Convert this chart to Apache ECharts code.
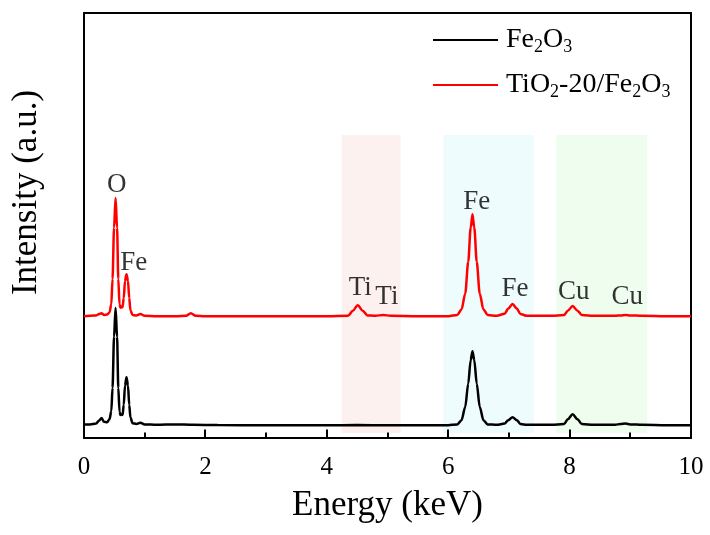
<!DOCTYPE html>
<html>
<head>
<meta charset="utf-8">
<script src="https://cdn.jsdelivr.net/npm/echarts@6/dist/echarts.min.js"></script>
<style>html,body{margin:0;padding:0;background:#fff;}#c{width:710px;height:535px;}</style>
</head>
<body>
<div id="c"></div>
<script>
// ---- data ----
const seriesNames = ['Fe2O3', 'TiO2-20/Fe2O3'];
// [energy keV, intensity a.u.] relative to each trace's own baseline
const fe2o3 = [
[0.00,0.4],[0.10,0.4],[0.20,0.6],[0.25,1.3],[0.29,1.9],[0.33,1.0],[0.38,0.9],[0.42,1.6],[0.45,3.5],[0.47,9],[0.495,21],[0.52,27.8],[0.545,21],[0.565,9],[0.585,3.4],[0.60,2.6],[0.62,2.8],[0.635,2.6],[0.655,5],[0.675,9.5],[0.70,11.5],[0.725,9.5],[0.745,5],[0.765,2.0],[0.80,0.7],[0.86,0.5],[0.93,0.8],[1.00,0.4],[1.20,0.3],[1.50,0.4],[1.80,0.3],[2.2,0.25],[3.0,0.2],[4.0,0.2],[4.5,0.25],[5.0,0.2],[5.5,0.2],[6.0,0.2],[6.15,0.4],[6.22,1.4],[6.28,4.5],[6.33,10],[6.37,15.5],[6.40,17.6],[6.43,15.5],[6.47,10],[6.52,4.5],[6.58,1.4],[6.65,0.4],[6.80,0.3],[6.93,0.6],[6.99,1.4],[7.06,2.1],[7.13,1.4],[7.19,0.5],[7.3,0.3],[7.7,0.3],[7.91,0.5],[7.97,1.6],[8.05,2.8],[8.13,1.6],[8.2,0.5],[8.4,0.3],[8.75,0.3],[8.84,0.5],[8.92,0.6],[9.0,0.4],[9.2,0.3],[9.6,0.2],[10.0,0.2]
];
const tio2Fe2o3 = [
[0.00,0.2],[0.10,0.3],[0.20,0.4],[0.25,0.7],[0.29,0.9],[0.33,0.5],[0.38,0.6],[0.42,1.1],[0.45,3],[0.47,9],[0.495,21],[0.52,28.0],[0.545,21],[0.565,9],[0.585,3],[0.60,2.2],[0.62,2.5],[0.635,2.3],[0.655,4.5],[0.675,8.5],[0.70,10.1],[0.725,8.5],[0.745,4.5],[0.765,1.6],[0.80,0.5],[0.86,0.4],[0.93,0.7],[1.00,0.3],[1.2,0.2],[1.5,0.2],[1.68,0.3],[1.76,0.9],[1.84,0.3],[2.0,0.2],[3.0,0.2],[4.0,0.2],[4.35,0.3],[4.43,1.5],[4.51,2.8],[4.59,1.5],[4.67,0.4],[4.8,0.3],[4.93,0.5],[5.05,0.3],[5.5,0.2],[6.0,0.2],[6.15,0.5],[6.22,1.8],[6.28,5.5],[6.33,13],[6.37,21],[6.40,24.2],[6.43,21],[6.47,13],[6.52,5.5],[6.58,1.8],[6.65,0.5],[6.8,0.3],[6.93,0.8],[6.99,2.0],[7.06,3.1],[7.13,2.0],[7.19,0.7],[7.3,0.3],[7.7,0.3],[7.91,0.5],[7.97,1.5],[8.05,2.6],[8.13,1.5],[8.2,0.5],[8.4,0.3],[8.75,0.3],[8.84,0.4],[8.92,0.5],[9.0,0.4],[9.2,0.3],[9.6,0.2],[10.0,0.2]
];
const offsets = [2.8, 28.45];           // vertical stacking offset of each trace
const bands = [[4.245, 5.216], [5.92, 7.41], [7.78, 9.28]];  // keV
const bandY = [1.2, 71.3];
const peakNames = ['O', 'Fe', 'Ti', 'Ti', 'Fe', 'Fe', 'Cu', 'Cu'];
const peakLabelX = [0.54, 0.82, 4.55, 4.99, 6.47, 7.10, 8.07, 8.95];
const peakLabelY = [59.5, 41.2, 35.3, 33.2, 55.5, 35.1, 34.4, 33.2];
const majorTicks = [0, 2, 4, 6, 8, 10];
const minorTicks = [1, 3, 5, 7, 9];

// ---- chart ----
const FONT = '"Liberation Serif", "Times New Roman", serif';
const bandColors = ['#fdf1ef', '#effcfd', '#effdef'];
const majorLen = 2.0, minorLen = 1.3;   // tick lengths in y-axis units
const shift = (arr, off) => arr.map(p => [p[0], p[1] + off]);
const rich = {
  n: { fontFamily: FONT, fontSize: 28, color: '#000', lineHeight: 32, verticalAlign: 'middle' },
  s: { fontFamily: FONT, fontSize: 18, color: '#000', lineHeight: 18, verticalAlign: 'bottom' }
};
const legendText = {
  'Fe2O3': '{n|Fe}{s|2}{n|O}{s|3}',
  'TiO2-20/Fe2O3': '{n|TiO}{s|2}{n|-20/Fe}{s|2}{n|O}{s|3}'
};
const frameAxis = { show: true, onZero: false, lineStyle: { color: '#000', width: 2 } };
const tickData = majorTicks.map(v => [v, majorLen, 2]).concat(minorTicks.map(v => [v, minorLen, 2]));

const chart = echarts.init(document.getElementById('c'), null, { renderer: 'canvas' });
chart.setOption({
  animation: false,
  backgroundColor: '#fff',
  grid: { left: 84, right: 19, top: 13, bottom: 97 },
  legend: {
    orient: 'vertical', left: 428, top: 21, itemWidth: 65, itemHeight: 2, itemGap: 15,
    icon: 'rect',
    data: seriesNames,
    formatter: n => legendText[n],
    textStyle: { rich: rich, padding: [0, 0, 0, 3] }
  },
  xAxis: [{
    type: 'value', min: 0, max: 10, interval: 2,
    name: 'Energy (keV)', nameLocation: 'middle', nameGap: 50,
    nameTextStyle: { fontFamily: FONT, fontSize: 35, color: '#000' },
    axisLine: frameAxis,
    axisTick: { show: false },
    axisLabel: { fontFamily: FONT, fontSize: 25, color: '#000', margin: 17 },
    splitLine: { show: false }
  }, {
    type: 'value', min: 0, max: 10, interval: 2, position: 'top',
    axisLine: frameAxis, axisTick: { show: false }, axisLabel: { show: false }, splitLine: { show: false }
  }],
  yAxis: [{
    type: 'value', min: 0, max: 100,
    name: 'Intensity (a.u.)', nameLocation: 'middle', nameGap: 40,
    nameTextStyle: { fontFamily: FONT, fontSize: 35, color: '#000', padding: [0, 0, 0, 66] },
    axisLine: frameAxis,
    axisTick: { show: false }, axisLabel: { show: false }, splitLine: { show: false }
  }, {
    type: 'value', min: 0, max: 100, position: 'right',
    axisLine: frameAxis, axisTick: { show: false }, axisLabel: { show: false }, splitLine: { show: false }
  }],
  series: [
    {
      name: 'bands', type: 'line', data: [], silent: true, z: 1,
      markArea: {
        silent: true,
        data: bands.map((b, i) => [
          { xAxis: b[0], yAxis: bandY[0], itemStyle: { color: bandColors[i] } },
          { xAxis: b[1], yAxis: bandY[1] }
        ])
      }
    },
    {
      name: seriesNames[0], type: 'line', data: shift(fe2o3, offsets[0]), showSymbol: false, symbol: 'none',
      smooth: 0.3, smoothMonotone: 'x', z: 3,
      lineStyle: { color: '#000', width: 2.5 }, itemStyle: { color: '#000' }
    },
    {
      name: seriesNames[1], type: 'line', data: shift(tio2Fe2o3, offsets[1]), showSymbol: false, symbol: 'none',
      smooth: 0.3, smoothMonotone: 'x', z: 3,
      lineStyle: { color: '#ff0000', width: 2.5 }, itemStyle: { color: '#ff0000' }
    },
    {
      name: 'ticks', type: 'custom', silent: true, z: 6, clip: false,
      data: tickData,
      encode: { x: 0, y: 1 },
      renderItem: (params, api) => {
        const x = api.value(0), len = api.value(1), w = api.value(2);
        const p0 = api.coord([x, 0]);
        const p1 = api.coord([x, len]);
        return {
          type: 'rect',
          shape: { x: Math.round(p0[0]) - w / 2, y: p1[1], width: w, height: p0[1] - p1[1] },
          style: { fill: '#000' }
        };
      }
    },
    {
      name: 'labels', type: 'scatter', symbolSize: 0, silent: true, z: 4,
      data: peakNames.map((n, i) => ({ name: n, value: [peakLabelX[i], peakLabelY[i]] })),
      label: { show: true, position: 'inside', formatter: '{b}', fontFamily: FONT, fontSize: 27, color: '#000', textBorderWidth: 0 }
    }
  ]
});
</script>
</body>
</html>
